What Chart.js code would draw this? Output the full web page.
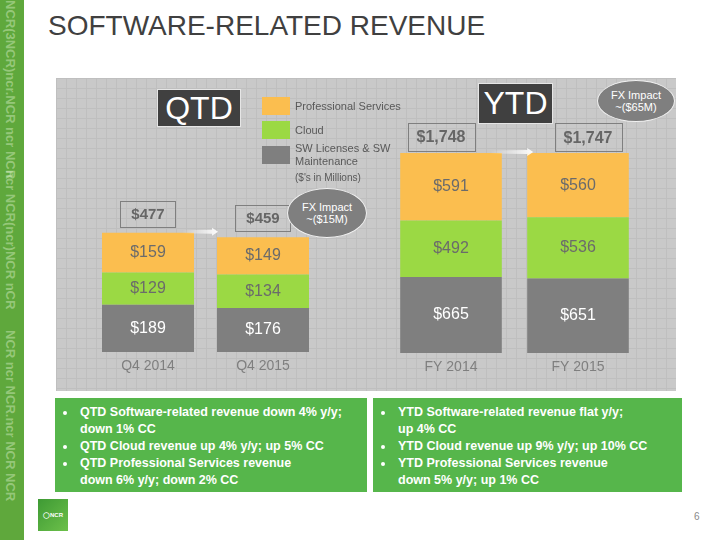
<!DOCTYPE html>
<html>
<head>
<meta charset="utf-8">
<script src="https://cdn.jsdelivr.net/npm/chart.js@4"></script>
<style>
  body { margin: 0; width: 720px; height: 540px; background: #fff; position: relative; overflow: hidden;
         font-family: "Liberation Sans", Arial, sans-serif; }
  .abs { position: absolute; }
  #strip { left: 0; top: 0; width: 24px; height: 540px; background: #5fa83c; overflow: hidden; }
  #strip span { position: absolute; left: 3px; color: rgba(220,240,200,0.45); font-size: 13px; font-weight: bold;
                writing-mode: vertical-rl; letter-spacing: 0px; white-space: nowrap; }
  #title { left: 48px; top: 12px; font-size: 28px; line-height: 28px; color: #404040; }
  #panel { left: 56px; top: 78px; width: 620px; height: 313px; background-color: #c9c9c9;
           background-image: linear-gradient(#bfbfbf 1px, transparent 1px), linear-gradient(90deg, #bfbfbf 1px, transparent 1px);
           background-size: 10px 10px; }
  .tag { background: #404040; border: 1px solid #e6e6e6; color: #fff; font-size: 32px; text-align: center; box-sizing: border-box; }
  .fx { background: #7f7f7f; border: 1.5px solid #f2f2f2; border-radius: 50%; color: #fff; font-size: 11px;
        text-align: center; box-sizing: border-box; display: flex; flex-direction: column; justify-content: center; line-height: 12px; }
  .sw { width: 28px; height: 18px; }
  .lg { font-size: 11px; color: #595959; line-height: 13px; }
  .note { background: #56b64b; color: #fff; font-weight: bold; font-size: 12.5px; line-height: 17px; box-sizing: border-box; padding: 6px 0 0 0; }
  .note ul { margin: 0; padding-left: 22px; }
  .note li { padding-left: 3px; }
  #logo { left: 38px; top: 499px; width: 30px; height: 32px; background: linear-gradient(135deg, #3e9a34, #6cc04a); color: #fff;
          font-size: 6px; font-weight: bold; text-align: center; line-height: 32px; }
  #page { left: 694px; top: 511px; font-size: 10px; color: #8a8a8a; }
</style>
</head>
<body>
<div id="strip" class="abs">
  <span style="top:0">NCR(3NCR)ncr.NCR ncr NCR</span>
  <span style="top:170px">ncr NCR(ncr)NCR nCR</span>
  <span style="top:330px">NCR ncr NCR.ncr NCR NCR</span>
</div>
<div id="title" class="abs">SOFTWARE-RELATED REVENUE</div>
<div id="panel" class="abs"></div>

<canvas id="qtdChart" class="abs" width="300" height="314" style="left:56px;top:78px"></canvas>
<canvas id="ytdChart" class="abs" width="316" height="314" style="left:360px;top:78px"></canvas>

<div class="abs tag" style="left:157px;top:89px;width:84px;height:38px;line-height:36px">QTD</div>
<div class="abs tag" style="left:478px;top:83px;width:75px;height:41px;line-height:39px">YTD</div>

<div class="abs fx" style="left:287px;top:188px;width:80px;height:50px"><div>FX Impact</div><div id="fxQtd"></div></div>
<div class="abs fx" style="left:597px;top:80px;width:78px;height:42px"><div>FX Impact</div><div id="fxYtd"></div></div>

<div id="legend"></div>
<div class="abs lg" style="left:295px;top:171px;font-size:10px">($'s in Millions)</div>

<div class="abs note" style="left:55px;top:398px;width:312px;height:94px">
  <ul>
    <li>QTD Software-related revenue down 4% y/y;<br>down 1% CC</li>
    <li>QTD Cloud revenue up 4% y/y; up 5% CC</li>
    <li>QTD Professional Services revenue<br>down 6% y/y; down 2% CC</li>
  </ul>
</div>
<div class="abs note" style="left:373px;top:398px;width:309px;height:94px">
  <ul>
    <li>YTD Software-related revenue flat y/y;<br>up 4% CC</li>
    <li>YTD Cloud revenue up 9% y/y; up 10% CC</li>
    <li>YTD Professional Services revenue<br>down 5% y/y; up 1% CC</li>
  </ul>
</div>

<div id="logo" class="abs">&#9711;NCR</div>
<div id="page" class="abs">6</div>

<script>
// values in $ millions
const qtdLabels = ['Q4 2014', 'Q4 2015'];
const ytdLabels = ['FY 2014', 'FY 2015'];
const seriesNames = ['SW Licenses & SW Maintenance', 'Cloud', 'Professional Services'];
const seriesColors = ['#7f7f7f', '#9bd944', '#fbbe4f'];
const labelColors = ['#ffffff', '#6b6b6b', '#6b6b6b'];

const qtdSwLicenses = [189, 176];
const qtdCloud = [129, 134];
const qtdProfServices = [159, 149];

const ytdSwLicenses = [665, 651];
const ytdCloud = [492, 536];
const ytdProfServices = [591, 560];

const fxImpact = ['~($15M)', '~($65M)'];

document.getElementById('fxQtd').textContent = fxImpact[0];
document.getElementById('fxYtd').textContent = fxImpact[1];

// legend, top item first like on the slide
const legend = document.getElementById('legend');
const legendTops = [146, 121, 97];
seriesNames.forEach((name, i) => {
  const sw = document.createElement('div');
  sw.className = 'abs sw';
  sw.style.left = '262px';
  sw.style.top = legendTops[i] + 'px';
  sw.style.background = seriesColors[i];
  legend.appendChild(sw);
  const txt = document.createElement('div');
  txt.className = 'abs lg';
  txt.style.left = '295px';
  txt.style.top = (legendTops[i] + (i === 0 ? -4 : 3)) + 'px';
  txt.style.width = '110px';
  txt.textContent = name;
  legend.appendChild(txt);
});

const money = v => '$' + v.toLocaleString('en-US');

const barLabels = {
  id: 'barLabels',
  afterDatasetsDraw(chart, args, opts) {
    const ctx = chart.ctx;
    const metas = chart.data.datasets.map((d, i) => chart.getDatasetMeta(i));
    ctx.save();
    ctx.textAlign = 'center';
    ctx.textBaseline = 'middle';
    ctx.font = '16px "Liberation Sans", Arial, sans-serif';
    metas.forEach((meta, di) => {
      meta.data.forEach((bar, j) => {
        ctx.fillStyle = labelColors[di];
        ctx.fillText(money(chart.data.datasets[di].data[j]), bar.x, (bar.y + bar.base) / 2);
      });
    });

    // totals in boxes above the bars
    const top = metas[metas.length - 1].data;
    ctx.font = 'bold ' + opts.totalFont + 'px "Liberation Sans", Arial, sans-serif';
    top.forEach((bar, j) => {
      const total = chart.data.datasets.reduce((s, d) => s + d.data[j], 0);
      const t = money(total);
      const w = ctx.measureText(t).width + opts.boxPad * 2;
      const cx = bar.x + opts.boxShift[j];
      const bottom = bar.y - opts.boxGap;
      ctx.strokeStyle = '#7f7f7f';
      ctx.lineWidth = 1;
      ctx.strokeRect(Math.round(cx - w / 2) + 0.5, Math.round(bottom - opts.boxH) + 0.5, Math.round(w), opts.boxH);
      ctx.fillStyle = '#666666';
      ctx.fillText(t, cx, bottom - opts.boxH / 2 + 1);
    });

    // fading arrow from first bar to second
    const a = top[0], b = top[1];
    const x0 = a.x + a.width / 2 - 12, x1 = b.x - b.width / 2 + opts.arrowEnd, y = a.y - 1;
    const g = ctx.createLinearGradient(x0, 0, x1, 0);
    g.addColorStop(0, 'rgba(255,255,255,0)');
    g.addColorStop(1, 'rgba(255,255,255,0.95)');
    ctx.fillStyle = g;
    ctx.beginPath();
    ctx.moveTo(x0, y - 1.5);
    ctx.lineTo(x1 - 6, y - 2);
    ctx.lineTo(x1 - 6, y - 4);
    ctx.lineTo(x1, y);
    ctx.lineTo(x1 - 6, y + 4);
    ctx.lineTo(x1 - 6, y + 2);
    ctx.lineTo(x0, y + 1.5);
    ctx.closePath();
    ctx.fill();
    ctx.restore();
  }
};

function makeChart(id, labels, series, yMax, padL, padR, axisH, boxOpts) {
  return new Chart(document.getElementById(id), {
    type: 'bar',
    data: {
      labels: labels,
      datasets: series.map((s, i) => ({
        label: seriesNames[i],
        data: s,
        backgroundColor: seriesColors[i],
        borderWidth: 0,
        barPercentage: 0.8,
        categoryPercentage: 1
      }))
    },
    options: {
      responsive: false,
      animation: false,
      devicePixelRatio: 1,
      layout: { padding: { left: padL, right: padR, top: 0, bottom: 0 } },
      plugins: { legend: { display: false }, tooltip: { enabled: false }, barLabels: boxOpts },
      scales: {
        x: {
          stacked: true,
          grid: { display: false, drawTicks: false },
          border: { display: false },
          ticks: { color: '#7f7f7f', font: { size: 14, family: '"Liberation Sans", Arial, sans-serif' }, padding: 6 },
          afterFit: s => { s.height = axisH; }
        },
        y: { stacked: true, display: false, min: 0, max: yMax }
      }
    },
    plugins: [barLabels]
  });
}

makeChart('qtdChart', qtdLabels, [qtdSwLicenses, qtdCloud, qtdProfServices], 1096, 34.5, 35.5, 40,
  { totalFont: 15, boxPad: 11, boxH: 26, boxGap: 6, boxShift: [0, 0], arrowEnd: 1 });
makeChart('ytdChart', ytdLabels, [ytdSwLicenses, ytdCloud, ytdProfServices], 2403.5, 27.5, 34.5, 39,
  { totalFont: 16, boxPad: 9, boxH: 28, boxGap: 2, boxShift: [-10, 10], arrowEnd: 6 });
</script>
</body>
</html>
